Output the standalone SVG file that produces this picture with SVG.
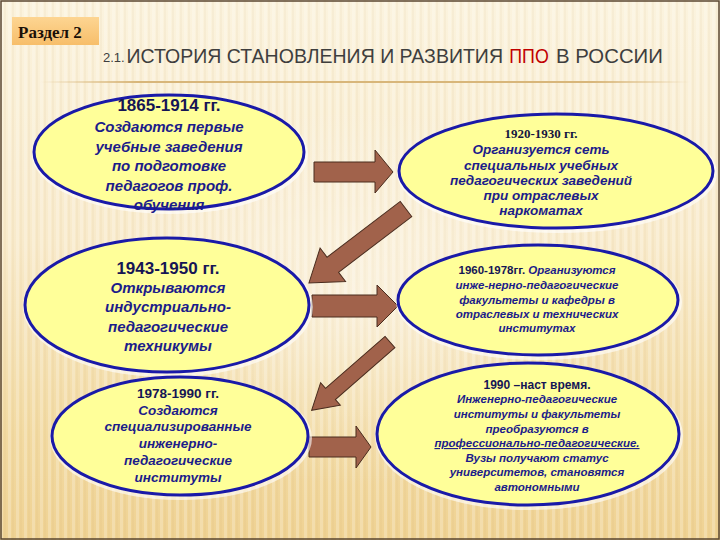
<svg xmlns="http://www.w3.org/2000/svg" width="720" height="540" viewBox="0 0 720 540">
<defs>
<linearGradient id="bg" x1="0" y1="0" x2="0" y2="1">
<stop offset="0" stop-color="#FBF3DE"/>
<stop offset="0.45" stop-color="#F8EACB"/>
<stop offset="0.8" stop-color="#F2DAA2"/>
<stop offset="1" stop-color="#EFD293"/>
</linearGradient>
<radialGradient id="glow" cx="0.5" cy="0.55" r="0.35">
<stop offset="0" stop-color="#FFFFFF" stop-opacity="0.45"/>
<stop offset="1" stop-color="#FFFFFF" stop-opacity="0"/>
</radialGradient>
<pattern id="stripes" width="8" height="10" patternUnits="userSpaceOnUse">
<rect x="0" y="0" width="3" height="10" fill="#FFFFFF" fill-opacity="0.22"/>
<rect x="4" y="0" width="2" height="10" fill="#C8A060" fill-opacity="0.08"/>
</pattern>
<linearGradient id="tag" x1="0" y1="0" x2="0" y2="1">
<stop offset="0" stop-color="#FDD592"/>
<stop offset="1" stop-color="#F7BE6A"/>
</linearGradient>
<linearGradient id="rule" x1="0" y1="0" x2="1" y2="0">
<stop offset="0" stop-color="#D8B67A" stop-opacity="0"/>
<stop offset="0.15" stop-color="#D8B67A"/>
<stop offset="0.85" stop-color="#D8B67A"/>
<stop offset="1" stop-color="#D8B67A" stop-opacity="0"/>
</linearGradient>
<style>
.ell{fill:#FFFF99;stroke:#1A1AA8;stroke-width:3}
.halo{fill:none;stroke:#FFFFFF;stroke-opacity:0.6;stroke-width:4}
.arr{fill:#A1624B;stroke:#4A2C1E;stroke-width:1}
.ttl{font-family:"Liberation Sans",Arial,sans-serif;font-size:21px;fill:#3E3E3E}
.date{font-family:"Liberation Sans",Arial,sans-serif;font-weight:bold;fill:#151555;text-anchor:middle}
.it{font-family:"Liberation Sans",Arial,sans-serif;font-weight:bold;font-style:italic;fill:#1C1C8A;text-anchor:middle}
</style>
</defs>

<rect x="0" y="0" width="720" height="540" fill="url(#bg)"/>
<rect x="0" y="0" width="720" height="540" fill="url(#stripes)"/>
<rect x="0" y="0" width="720" height="540" fill="url(#glow)"/>
<rect x="1" y="1" width="718" height="538" fill="none" stroke="#5A4630" stroke-width="1.5"/>

<g id="header">
<rect x="12" y="17" width="87" height="28" fill="url(#tag)"/>
<text x="18" y="38" font-family="Liberation Serif, Times New Roman, serif" font-weight="bold" font-size="17" fill="#1A1008">Раздел 2</text>
<text x="103" y="62" font-family="Liberation Sans, Arial, sans-serif" font-size="13" fill="#3E3E3E">2.1.</text>
<text class="ttl" transform="translate(503,63) scale(0.93,1)" text-anchor="end">ИСТОРИЯ СТАНОВЛЕНИЯ И РАЗВИТИЯ</text>
<text class="ttl" transform="translate(529,63) scale(0.85,1)" text-anchor="middle" style="fill:#C00000">ППО</text>
<text class="ttl" transform="translate(556,63) scale(0.97,1)">В РОССИИ</text>
<rect x="40" y="81" width="650" height="2" fill="url(#rule)"/>
</g>

<g id="connectors">
<polygon class="arr" points="314,162 375,162 375,150 393,172 375,193 375,182 314,182"/>
<polygon class="arr" transform="translate(406,209) rotate(142.7)" points="0,-9.5 92,-9.5 92,-21 122,0 92,21 92,9.5 0,9.5"/>
<polygon class="arr" points="312,295 377,295 377,285 398,306 377,327 377,317 312,317"/>
<polygon class="arr" transform="translate(390,342) rotate(138.9)" points="0,-7.5 79,-7.5 79,-15 104,0 79,15 79,7.5 0,7.5"/>
<polygon class="arr" points="309,437 356,437 356,426 371,447 356,468 356,457 309,457"/>
</g>

<g id="node1">
<ellipse class="halo" cx="170" cy="154" rx="136" ry="58"/>
<ellipse class="ell" cx="169" cy="152" rx="135" ry="57"/>
<text class="date" x="169" y="111" font-size="17">1865-1914 гг.</text>
<text class="it" x="169" y="132" font-size="15">Создаются первые</text>
<text class="it" x="169" y="152" font-size="15">учебные заведения</text>
<text class="it" x="169" y="171" font-size="15">по подготовке</text>
<text class="it" x="169" y="191" font-size="15">педагогов проф.</text>
<text class="it" x="169" y="210" font-size="15">обучения</text>
</g>

<g id="node2">
<ellipse class="halo" cx="557" cy="173" rx="158" ry="58"/>
<ellipse class="ell" cx="556" cy="171" rx="157" ry="57"/>
<text x="541" y="138" font-family="Liberation Serif, Times New Roman, serif" font-weight="bold" font-size="13" fill="#151540" text-anchor="middle">1920-1930 гг.</text>
<text class="it" x="541" y="154" font-size="13.5">Организуется сеть</text>
<text class="it" x="541" y="170" font-size="13.5">специальных учебных</text>
<text class="it" x="541" y="185" font-size="13.5">педагогических заведений</text>
<text class="it" x="541" y="200" font-size="13.5">при отраслевых</text>
<text class="it" x="541" y="215" font-size="13.5">наркоматах</text>
</g>

<g id="node3">
<ellipse class="halo" cx="168" cy="307" rx="143" ry="68"/>
<ellipse class="ell" cx="167" cy="305" rx="142" ry="67"/>
<text class="date" x="168" y="274" font-size="17">1943-1950 гг.</text>
<text class="it" x="168" y="293" font-size="15">Открываются</text>
<text class="it" x="168" y="312" font-size="15">индустриально-</text>
<text class="it" x="168" y="332" font-size="15">педагогические</text>
<text class="it" x="168" y="351" font-size="15">техникумы</text>
</g>

<g id="node4">
<ellipse class="halo" cx="539" cy="302" rx="141" ry="56"/>
<ellipse class="ell" cx="538" cy="300" rx="140" ry="55"/>
<text class="it" x="537" y="274" font-size="11.5"><tspan font-style="normal" fill="#151555">1960-1978гг.</tspan> Организуются</text>
<text class="it" x="537" y="289" font-size="11.5">инже-нерно-педагогические</text>
<text class="it" x="537" y="304" font-size="11.5">факультеты и кафедры в</text>
<text class="it" x="537" y="318" font-size="11.5">отраслевых и технических</text>
<text class="it" x="537" y="332" font-size="11.5">институтах</text>
</g>

<g id="node5">
<ellipse class="halo" cx="181" cy="438" rx="129" ry="60"/>
<ellipse class="ell" cx="180" cy="436" rx="128" ry="59"/>
<text class="date" x="178" y="398" font-size="13.5">1978-1990 гг.</text>
<text class="it" x="178" y="415" font-size="13.5">Создаются</text>
<text class="it" x="178" y="431" font-size="13.5">специализированные</text>
<text class="it" x="178" y="448" font-size="13.5">инженерно-</text>
<text class="it" x="178" y="465" font-size="13.5">педагогические</text>
<text class="it" x="178" y="482" font-size="13.5">институты</text>
</g>

<g id="node6">
<ellipse class="halo" cx="529" cy="436" rx="152" ry="72"/>
<ellipse class="ell" cx="528" cy="434" rx="151" ry="71"/>
<text class="date" x="537" y="389" font-size="12" fill="#1A1A40">1990 –наст время.</text>
<text class="it" x="537" y="403" font-size="11.5">Инженерно-педагогические</text>
<text class="it" x="537" y="418" font-size="11.5">институты и факультеты</text>
<text class="it" x="537" y="433" font-size="11.5">преобразуются в</text>
<text class="it" x="537" y="447" font-size="11.5" text-decoration="underline">профессионально-педагогические.</text>
<text class="it" x="537" y="462" font-size="11.5">Вузы получают статус</text>
<text class="it" x="537" y="476" font-size="11.5">университетов, становятся</text>
<text class="it" x="537" y="491" font-size="11.5">автономными</text>
</g>
</svg>
